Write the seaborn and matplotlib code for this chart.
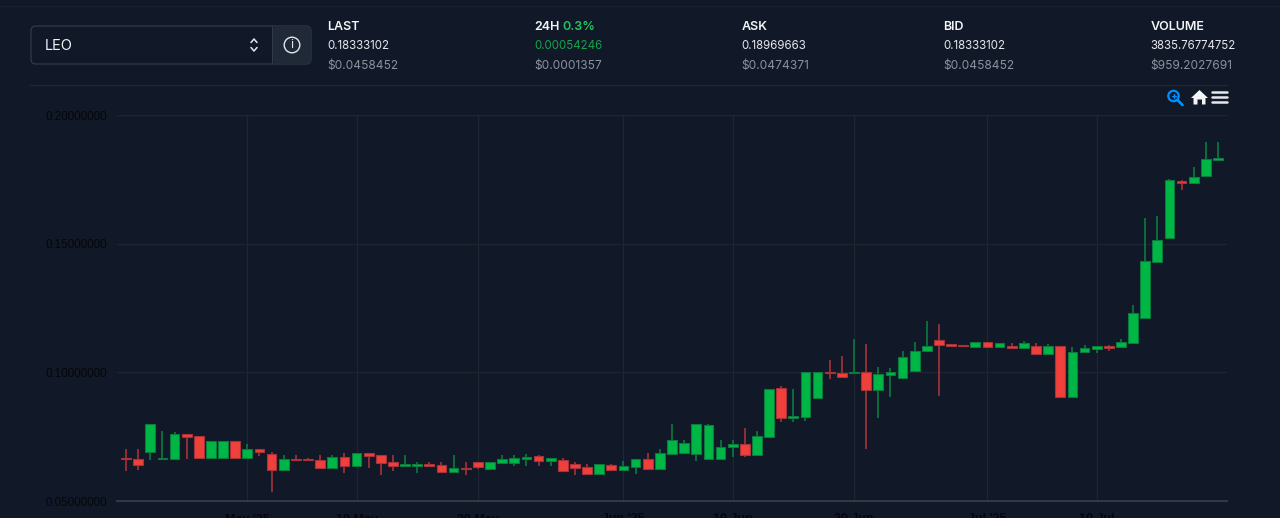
import numpy as np
import pandas as pd
import matplotlib
matplotlib.use('AGG')
import matplotlib.pyplot as plt
from matplotlib.patches import Circle, FancyBboxPatch, Polygon, Rectangle
import seaborn as sns

# daily candles, day 0 is 21 Apr 2025
open_price = [0.06659, 0.06644, 0.06892, 0.06620, 0.06632, 0.07615, 0.07514, 0.06659, 0.06671, 0.07320,
              0.06683, 0.07009, 0.06826, 0.06193, 0.06620, 0.06620, 0.06605, 0.06294, 0.06710, 0.06372,
              0.06854, 0.06788, 0.06504, 0.06372, 0.06372, 0.06438, 0.06411, 0.06139, 0.06294, 0.06516,
              0.06244, 0.06488, 0.06488, 0.06644, 0.06737, 0.06543, 0.06582, 0.06426, 0.06310, 0.06061,
              0.06399, 0.06216, 0.06333, 0.06620, 0.06244, 0.06838, 0.06854, 0.06838, 0.06632, 0.06644,
              0.07087, 0.07215, 0.06776, 0.07487, 0.09379, 0.08237, 0.08264, 0.09014, 0.10013, 0.09986,
              0.09974, 0.10025, 0.09302, 0.09896, 0.09791, 0.10052, 0.10817, 0.11268, 0.11113, 0.11062,
              0.10984, 0.11179, 0.10984, 0.11035, 0.10946, 0.11012, 0.10724, 0.11012, 0.09030, 0.10779,
              0.10918, 0.11012, 0.10984, 0.11152, 0.12111, 0.14288, 0.15232, 0.17435, 0.17346, 0.17641,
              0.18251]
close_price = [0.06620, 0.06399, 0.07992, 0.06671, 0.07604, 0.07475, 0.06659, 0.07320, 0.07320, 0.06671,
               0.07009, 0.06892, 0.06193, 0.06620, 0.06582, 0.06582, 0.06282, 0.06698, 0.06360, 0.06854,
               0.06760, 0.06488, 0.06372, 0.06438, 0.06438, 0.06372, 0.06139, 0.06294, 0.06244, 0.06333,
               0.06527, 0.06620, 0.06659, 0.06721, 0.06543, 0.06671, 0.06154, 0.06282, 0.06038, 0.06438,
               0.06216, 0.06360, 0.06620, 0.06244, 0.06854, 0.07382, 0.07265, 0.08004, 0.07965, 0.07110,
               0.07215, 0.06788, 0.07514, 0.09364, 0.08237, 0.08291, 0.10013, 0.10013, 0.09962, 0.09830,
               0.10025, 0.09302, 0.09924, 0.10025, 0.10607, 0.10841, 0.11012, 0.11074, 0.11035, 0.11012,
               0.11179, 0.10984, 0.11128, 0.10957, 0.11128, 0.10724, 0.11012, 0.09030, 0.10802, 0.10957,
               0.11012, 0.10934, 0.11167, 0.12317, 0.14315, 0.15154, 0.17474, 0.17346, 0.17602, 0.18278,
               0.18341]
high_price = [0.07009, 0.07009, 0.07992, 0.07709, 0.07693, 0.07615, 0.07514, 0.07320, 0.07320, 0.07320,
              0.07215, 0.07009, 0.06904, 0.06799, 0.06788, 0.06659, 0.06788, 0.06788, 0.06854, 0.06854,
              0.06854, 0.06788, 0.06776, 0.06788, 0.06527, 0.06516, 0.06504, 0.06788, 0.06504, 0.06516,
              0.06527, 0.06799, 0.06799, 0.06815, 0.06799, 0.06671, 0.06659, 0.06516, 0.06426, 0.06438,
              0.06438, 0.06554, 0.06620, 0.06854, 0.07009, 0.07992, 0.07359, 0.08004, 0.08004, 0.07370,
              0.07359, 0.07825, 0.07709, 0.09364, 0.09457, 0.09352, 0.10013, 0.10013, 0.10491, 0.10635,
              0.11295, 0.11113, 0.10196, 0.10157, 0.10841, 0.11167, 0.11995, 0.11878, 0.11113, 0.11062,
              0.11179, 0.11179, 0.11128, 0.11128, 0.11229, 0.11128, 0.11089, 0.11012, 0.10973, 0.11062,
              0.11012, 0.11062, 0.11295, 0.12605, 0.15986, 0.16063, 0.17500, 0.17474, 0.17991, 0.18962,
              0.18962]
low_price = [0.06166, 0.06205, 0.06593, 0.06620, 0.06632, 0.06644, 0.06659, 0.06659, 0.06671, 0.06671,
             0.06683, 0.06749, 0.05361, 0.06193, 0.06582, 0.06582, 0.06282, 0.06294, 0.06100, 0.06372,
             0.06282, 0.06010, 0.06166, 0.06372, 0.06088, 0.06372, 0.06100, 0.06139, 0.06010, 0.06255,
             0.06244, 0.06488, 0.06360, 0.06372, 0.06360, 0.06372, 0.06154, 0.06010, 0.06038, 0.06061,
             0.06216, 0.06216, 0.06061, 0.06205, 0.06244, 0.06838, 0.06854, 0.06566, 0.06632, 0.06644,
             0.06721, 0.06721, 0.06776, 0.07487, 0.08058, 0.08070, 0.08120, 0.09014, 0.09741, 0.09830,
             0.09974, 0.07009, 0.08214, 0.09041, 0.09791, 0.10052, 0.10817, 0.09080, 0.10996, 0.11012,
             0.10984, 0.10984, 0.10984, 0.10957, 0.10946, 0.10685, 0.10724, 0.09030, 0.09030, 0.10779,
             0.10740, 0.10817, 0.10934, 0.11152, 0.12111, 0.14288, 0.15232, 0.17097, 0.17346, 0.17602,
             0.18251]

y_ticks = [0.05, 0.10, 0.15, 0.20]
x_tick_days = [10, 19, 29, 41, 50, 60, 71, 80]
x_tick_labels = ["May '25", '10 May', '20 May', "Jun '25", '10 Jun', '20 Jun', "Jul '25", '10 Jul']

BG = '#111827'
LINE = '#1f2937'
GRID = '#20262f'
GREEN = '#00b746'
RED = '#ef403c'
WIDTH, HEIGHT = 1280, 518

sns.set_theme(style='dark')
plt.rcParams['font.family'] = ['Inter', 'DejaVu Sans']

df = pd.DataFrame({'day': np.arange(len(open_price)), 'open': open_price, 'close': close_price,
                   'high': high_price, 'low': low_price})
df['bottom'] = df[['open', 'close']].min(axis=1)
df['size'] = (df['close'] - df['open']).abs()
df['up'] = df['close'] >= df['open']

fig = plt.figure(figsize=(WIDTH / 100, HEIGHT / 100), dpi=100, facecolor=BG)

# page layer in pixel coords, y going down like the screenshot
page = fig.add_axes([0, 0, 1, 1], facecolor=BG)
page.set_xlim(0, WIDTH)
page.set_ylim(HEIGHT, 0)
page.axis('off')

ax = fig.add_axes([117 / WIDTH, 1 - 501 / HEIGHT, 1110 / WIDTH, 386 / HEIGHT], facecolor='none')


def draw_candles(ax, data, color, wick_color):
    ax.vlines(data['day'], data['low'], data['high'], color=wick_color, linewidth=1.2, zorder=2)
    sns.barplot(data=data, x='day', y='size', bottom=data['bottom'], native_scale=True, width=0.8,
                color=color, saturation=1, errorbar=None, edgecolor=wick_color, linewidth=0.8,
                zorder=3, ax=ax)


draw_candles(ax, df[df['up']], GREEN, '#0a7a3e')
draw_candles(ax, df[~df['up']], RED, '#a8323a')

ax.set_xlim(-0.74, 90.74)
ax.set_ylim(0.05, 0.20)
ax.set_xticks(x_tick_days)
ax.set_xticklabels(x_tick_labels)
ax.set_yticks(y_ticks)
ax.set_yticklabels(['%.8f' % v for v in y_ticks])
ax.set_xlabel('')
ax.set_ylabel('')
ax.grid(True, color=GRID, linewidth=0.9)
ax.set_axisbelow(True)
for side in ['top', 'right', 'left']:
    ax.spines[side].set_visible(False)
ax.spines['bottom'].set_color('#3a3f47')
ax.spines['bottom'].set_linewidth(1.2)
ax.tick_params(axis='x', length=6, width=1, color='#3a3f47', labelsize=9, labelcolor='#050709', pad=3)
ax.tick_params(axis='y', length=0, labelsize=8.4, labelcolor='#050709', pad=7)
plt.setp(ax.get_xticklabels(), family=['Liberation Sans'], fontweight='bold', clip_on=False)
plt.setp(ax.get_yticklabels(), family=['Liberation Sans'])


# header
page.plot([0, WIDTH], [6, 6], color='#1a2332', linewidth=1)
page.plot([30, 1227], [85, 85], color=LINE, linewidth=1)

page.add_patch(FancyBboxPatch((31, 26), 280, 38, boxstyle='round,pad=0,rounding_size=5',
                              facecolor=BG, edgecolor='#303a49', linewidth=0.9))
page.add_patch(FancyBboxPatch((273, 26.5), 38, 37, boxstyle='round,pad=0,rounding_size=4',
                              facecolor='#1f2937', edgecolor='none'))
page.add_patch(Rectangle((271.5, 26), 1.5, 38, facecolor='#303a49', edgecolor='none'))
page.text(45, 46, 'LEO', color='#f3f4f6', fontsize=10.5, va='center')
page.plot([251, 254, 257], [42.5, 39, 42.5], color='#e5e7eb', linewidth=1.1)
page.plot([251, 254, 257], [47.5, 51, 47.5], color='#e5e7eb', linewidth=1.1)
page.add_patch(Circle((292, 45), 7.8, facecolor='none', edgecolor='#e5e7eb', linewidth=1))
page.text(292, 45.5, 'i', color='#e5e7eb', fontsize=9, ha='center', va='center')

columns = [
    (327.5, 'LAST', '0.18333102', '#e5e7eb', '$0.0458452'),
    (534.5, '24H', '0.00054246', '#16a34a', '$0.0001357'),
    (741.5, 'ASK', '0.18969663', '#e5e7eb', '$0.0474371'),
    (943.5, 'BID', '0.18333102', '#e5e7eb', '$0.0458452'),
    (1150.5, 'VOLUME', '3835.76774752', '#e5e7eb', '$959.2027691'),
]
for x, title, value, value_color, usd in columns:
    page.text(x, 26.5, title, color='#f3f4f6', fontsize=9, fontweight='semibold', va='center')
    page.text(x, 46, value, color=value_color, fontsize=8.3, va='center')
    page.text(x, 66, usd, color='#8b929e', fontsize=8.6, va='center')
page.text(562, 26.5, '0.3%', color='#22c55e', fontsize=9, fontweight='semibold', va='center')

# toolbar icons
page.add_patch(Circle((1173.5, 96), 5.2, facecolor='none', edgecolor='#008ffb', linewidth=1.6))
page.plot([1177.5, 1182.5], [100, 105], color='#008ffb', linewidth=2)
page.plot([1171.5, 1175.5], [96, 96], color='#008ffb', linewidth=1)
page.plot([1173.5, 1173.5], [94, 98], color='#008ffb', linewidth=1)
page.add_patch(Polygon([[1191, 98], [1199.5, 90], [1208, 98], [1205.5, 98], [1205.5, 104.5],
                        [1202, 104.5], [1202, 99.5], [1197.5, 99.5], [1197.5, 104.5], [1193.5, 104.5], [1193.5, 98]],
                       facecolor='#f3f4f6', edgecolor='none'))
for y in [92, 97, 102]:
    page.plot([1212, 1227], [y, y], color='#e5e7eb', linewidth=1.8)

fig.savefig('out.png', dpi=100, facecolor=BG)
